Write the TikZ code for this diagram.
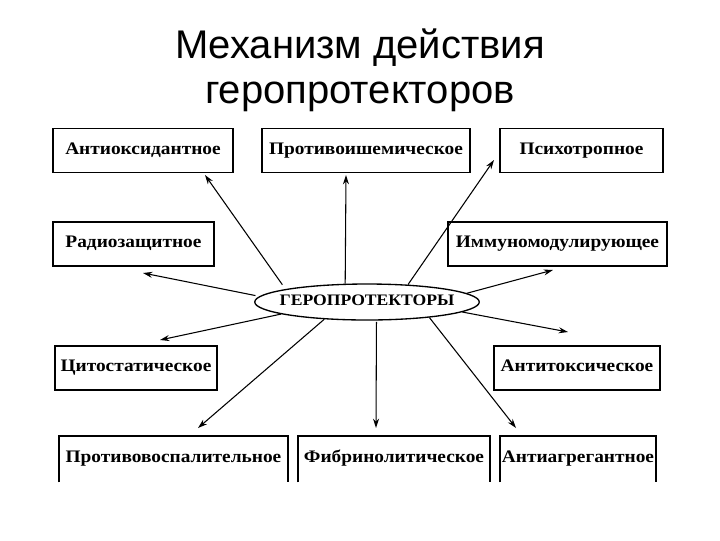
\documentclass[tikz,border=0pt]{standalone}
\usepackage{fontspec}
\setmainfont{Liberation Serif}
\newfontfamily\boxfont{Liberation Serif}[FakeStretch=1.1]
\newfontfamily\titlefont{Liberation Sans}
\usetikzlibrary{shapes.geometric,arrows.meta}
\begin{document}
\begin{tikzpicture}[x=0.75pt,y=-0.75pt,
  lbl/.style={font=\boxfont\bfseries\fontsize{13.2}{15}\selectfont, text height=1.6ex, text depth=0.3ex},
  box/.style={lbl, draw, line width=1.2pt, inner sep=0pt, minimum height=33pt},
  openbox/.style={lbl, inner sep=0pt, minimum height=34.5pt},
  ttl/.style={font=\titlefont\fontsize{30}{34}\selectfont, anchor=base, inner sep=0pt},
  arr/.style={-{Stealth[length=7pt,width=4.5pt]}, line width=0.8pt}]
\useasboundingbox (0,0) rectangle (720,540);
\node[ttl] (title1) at (360,58) {Механизм действия};
\node[ttl] (title2) at (360,103) {геропротекторов};

\node[box, minimum width=135pt] (b1) at (143,150.5) {Антиоксидантное};
\node[box, minimum width=156pt] (b2) at (366,150.5) {Противоишемическое};
\node[box, minimum width=122.25pt] (b3) at (581.5,150.5) {Психотропное};
\node[box, minimum width=120.75pt] (b4) at (133.5,244) {Радиозащитное};
\node[box, minimum width=164.25pt] (b5) at (557.5,244) {Иммуномодулирующее};
\node[box, minimum width=121.5pt] (b6) at (136,368) {Цитостатическое};
\node[box, minimum width=124.5pt] (b7) at (577,368) {Антитоксическое};
\node[openbox, minimum width=171.75pt] (b8) at (173.5,459) {Противовоспалительное};
\node[openbox, minimum width=144pt] (b9) at (394,459) {Фибринолитическое};
\node[openbox, minimum width=117pt] (b10) at (578,459) {Антиагрегантное};
\foreach \b in {b8,b9,b10}
  \draw[line width=1.2pt] (\b.south west) -- (\b.north west) -- (\b.north east) -- (\b.south east);

\node[lbl, font=\boxfont\bfseries\fontsize{12}{14}\selectfont, draw, ellipse, line width=1pt, inner xsep=-6pt, inner ysep=0pt, minimum width=166.5pt, minimum height=27pt] (g) at (367,302) {ГЕРОПРОТЕКТОРЫ};

\coordinate (t1) at (205,175);
\coordinate (t2) at (346,175);
\coordinate (t3) at (494,160);
\coordinate (t4) at (143,273);
\coordinate (t5) at (553,270);
\coordinate (t6) at (160,340);
\coordinate (t7) at (568,332);
\coordinate (t8) at (198,428);
\coordinate (t9) at (376,428);
\coordinate (t10) at (516,428);

\draw[arr, shorten <=4pt] (g.171) -- (t1);
\draw[arr] (g.140) -- (t2);
\draw[arr] (g.23) -- (t3);
\draw[arr, shorten <=3pt] (g.177) -- (t4);
\draw[arr] (g.5) -- (t5);
\draw[arr] (g.188) -- (t6);
\draw[arr] (g.354) -- (t7);
\draw[arr] (g.202) -- (t8);
\draw[arr, shorten <=1pt] (g.297) -- (t9);
\draw[arr] (g.346) -- (t10);
\end{tikzpicture}
\end{document}
